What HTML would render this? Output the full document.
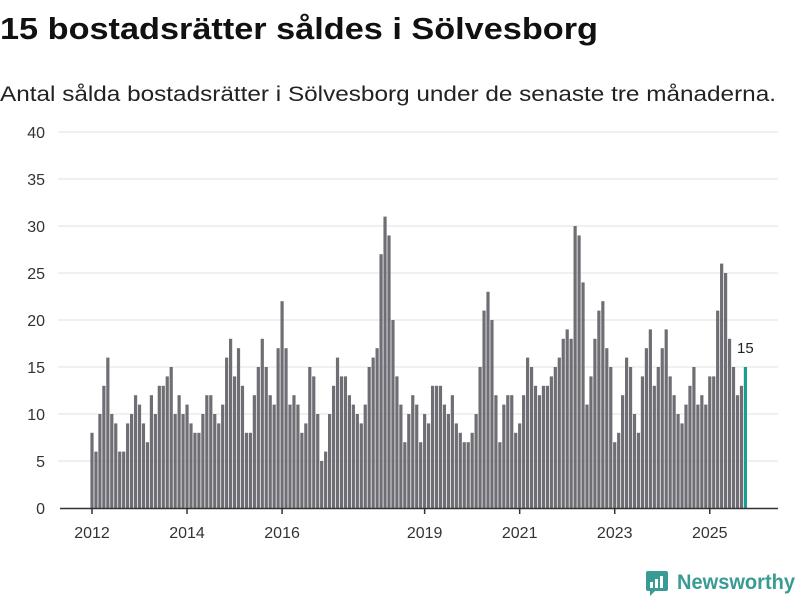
<!DOCTYPE html>
<html><head><meta charset="utf-8"><style>
html,body{margin:0;padding:0;background:#fff;}
svg{display:block;font-family:"Liberation Sans","DejaVu Sans",sans-serif;}
</style></head><body>
<svg id="chart" width="800" height="600" viewBox="0 0 800 600">
<text x="0" y="39" font-size="31" font-weight="bold" fill="#111" textLength="598" lengthAdjust="spacingAndGlyphs">15 bostadsrätter såldes i Sölvesborg</text>
<text x="0" y="101" font-size="21" fill="#222" textLength="776" lengthAdjust="spacingAndGlyphs">Antal sålda bostadsrätter i Sölvesborg under de senaste tre månaderna.</text>
<g id="grid"></g>
<g id="bars"></g>
<g id="xaxis"></g>
<g>
<rect x="646" y="571" width="22" height="20" rx="2" fill="#3a9b94"/>
<polygon points="650,590 656,590 650,596" fill="#3a9b94"/>
<rect x="650" y="582" width="3" height="6" fill="#fff"/><rect x="655" y="579" width="3" height="9" fill="#fff"/><rect x="660" y="576" width="3" height="12" fill="#fff"/>
<text x="677" y="589" font-size="21" font-weight="bold" fill="#3a9b94" textLength="118" lengthAdjust="spacingAndGlyphs">Newsworthy</text>
</g>
</svg>
<script>
const values = [8,6,10,13,16,10,9,6,6,9,10,12,
11,9,7,12,10,13,13,14,15,10,12,10,
11,9,8,8,10,12,12,10,9,11,16,18,
14,17,13,8,8,12,15,18,15,12,11,17,
22,17,11,12,11,8,9,15,14,10,5,6,
10,13,16,14,14,12,11,10,9,11,15,16,
17,27,31,29,20,14,11,7,10,12,11,7,
10,9,13,13,13,11,10,12,9,8,7,7,
8,10,15,21,23,20,12,7,11,12,12,8,
9,12,16,15,13,12,13,13,14,15,16,18,
19,18,30,29,24,11,14,18,21,22,17,15,
7,8,12,16,15,10,8,14,17,19,13,15,
17,19,14,12,10,9,11,13,15,11,12,11,
14,14,21,26,25,18,15,12,13,15];
const yTicks = [0,5,10,15,20,25,30,35,40];
const xTickLabels = ["2012","2014","2016","2019","2021","2023","2025"];
const xTickIndex = [0,24,48,84,108,132,156];
const NS="http://www.w3.org/2000/svg";
const y0=508, yTop=132, yMax=40;
function y(v){return y0-(v/yMax)*(y0-yTop);}
function x(i){return 92+i*3.96;}
const grid=document.getElementById('grid');
yTicks.forEach(t=>{
  if(t>0){const l=document.createElementNS(NS,'line');
  l.setAttribute('x1',58);l.setAttribute('x2',778);l.setAttribute('y1',y(t));l.setAttribute('y2',y(t));
  l.setAttribute('stroke','#e0e0e0');l.setAttribute('stroke-width','1');
  
  
  grid.appendChild(l);}
  const tx=document.createElementNS(NS,'text');
  tx.setAttribute('x',45);tx.setAttribute('y',y(t)+6);tx.setAttribute('text-anchor','end');
  tx.setAttribute('font-size','16');tx.setAttribute('fill','#333');tx.textContent=t;
  
  
  grid.appendChild(tx);
});
const bars=document.getElementById('bars');
values.forEach((v,i)=>{
  const r=document.createElementNS(NS,'rect');
  const last=i===values.length-1;
  r.setAttribute('x',x(i)-1.6);r.setAttribute('width',3.2);
  r.setAttribute('y',y(v));r.setAttribute('height',y0-y(v));
  r.setAttribute('fill',last?'#1a9e8f':'#6f6e74');
  
  
  bars.appendChild(r);
  if(last){const t=document.createElementNS(NS,'text');
    t.setAttribute('x',x(i));t.setAttribute('y',y(v)-14);t.setAttribute('text-anchor','middle');
    t.setAttribute('font-size','15');t.setAttribute('fill','#222');t.textContent=v;
    
    
    bars.appendChild(t);}
});
const xa=document.getElementById('xaxis');
const base=document.createElementNS(NS,'line');
base.setAttribute('x1',60);base.setAttribute('x2',778);base.setAttribute('y1',y0+0.5);base.setAttribute('y2',y0+0.5);
base.setAttribute('stroke','#333');base.setAttribute('stroke-width','1.5');


xa.appendChild(base);
xTickLabels.forEach((lab,k)=>{
  const xi=x(xTickIndex[k]);
  const tk=document.createElementNS(NS,'line');
  tk.setAttribute('x1',xi);tk.setAttribute('x2',xi);tk.setAttribute('y1',y0);tk.setAttribute('y2',y0+6);
  tk.setAttribute('stroke','#333');tk.setAttribute('stroke-width','1.5');
  
  
  xa.appendChild(tk);
  const t=document.createElementNS(NS,'text');
  t.setAttribute('x',xi);t.setAttribute('y',538);t.setAttribute('text-anchor','middle');
  t.setAttribute('font-size','16');t.setAttribute('fill','#333');t.textContent=lab;
  
  
  xa.appendChild(t);
});
</script>
</body></html>
